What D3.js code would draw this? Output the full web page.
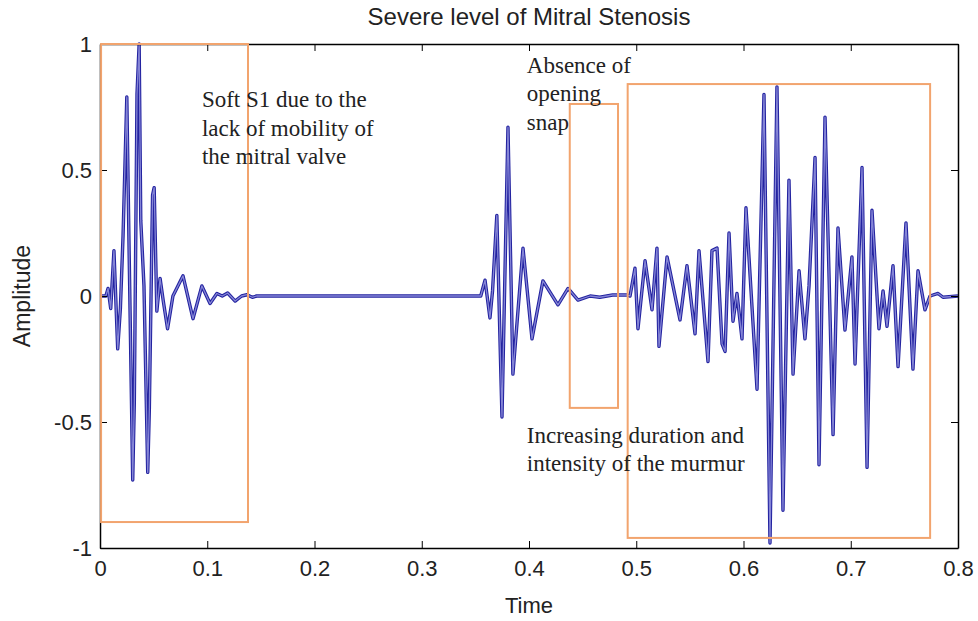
<!DOCTYPE html>
<html>
<head>
<meta charset="utf-8">
<script src="https://cdn.jsdelivr.net/npm/d3@7"></script>
<style>
  body { margin: 0; background: #fff; }
  svg { display: block; }
</style>
</head>
<body>
<script>
// signal extrema: [time, amplitude]
const s1 = [
  [0, 0], [0.0055, 0.0], [0.0075, 0.03], [0.010, -0.05], [0.013, 0.18], [0.0165, -0.21],
  [0.019, -0.05], [0.0215, 0.24], [0.025, 0.79], [0.027, 0.22], [0.0305, -0.73], [0.032, -0.42],
  [0.0345, 0.8], [0.0365, 1.0], [0.038, 0.3], [0.041, 0.04], [0.0445, -0.70], [0.046, -0.45],
  [0.049, 0.40], [0.0505, 0.43], [0.053, -0.06], [0.056, 0.07], [0.059, -0.02], [0.063, -0.13],
  [0.068, 0.0], [0.0774, 0.08], [0.0867, -0.09], [0.095, 0.04], [0.1026, -0.03], [0.109, 0.01],
  [0.114, 0.0], [0.119, 0.012], [0.126, -0.02], [0.132, 0.0], [0.137, 0.005], [0.142, -0.005],
  [0.146, 0.0]
];
const s2 = [
  [0.146, 0.0], [0.352, 0.0], [0.355, 0.0], [0.359, 0.063], [0.3636, -0.087], [0.366, 0.02],
  [0.370, 0.32], [0.3748, -0.48], [0.3804, 0.67], [0.385, -0.31], [0.3944, 0.19], [0.4028, -0.17],
  [0.413, 0.06], [0.427, -0.035], [0.4364, 0.03], [0.4457, -0.016], [0.457, 0.0], [0.466, -0.005],
  [0.478, 0.004], [0.491, 0.004]
];
const murmur = [
  [0.491, 0.004], [0.4942, 0.0], [0.4988, 0.11], [0.5016, -0.13], [0.5082, 0.14], [0.5147, -0.055],
  [0.5193, 0.19], [0.5212, -0.2], [0.5287, 0.155], [0.5408, -0.095], [0.5473, 0.12], [0.5548, -0.15],
  [0.5585, 0.18], [0.5669, -0.26], [0.5706, 0.18], [0.5753, 0.19], [0.5800, -0.19], [0.5828, -0.22],
  [0.5865, 0.25], [0.5902, -0.1], [0.5939, 0.01], [0.5986, -0.17], [0.6023, 0.35], [0.6126, -0.37],
  [0.6191, 0.80], [0.6247, -0.98], [0.6312, 0.83], [0.6368, -0.85], [0.6424, 0.46], [0.6462, -0.31],
  [0.6518, 0.10], [0.6573, -0.17], [0.6611, 0.04], [0.6667, 0.55], [0.6704, -0.67], [0.6760, 0.71],
  [0.6835, -0.55], [0.6881, 0.27], [0.6946, -0.135], [0.7011, 0.155], [0.7040, -0.27], [0.7105, 0.51],
  [0.7152, -0.68], [0.7198, 0.34], [0.7263, -0.13], [0.7301, 0.02], [0.7338, -0.12], [0.7394, 0.12],
  [0.7441, -0.28], [0.7515, 0.29], [0.7580, -0.29], [0.7627, 0.10], [0.7692, -0.055], [0.7739, 0.0],
  [0.7814, 0.01], [0.7860, -0.005], [0.8, 0.0]
];

const xTicks = [0, 0.1, 0.2, 0.3, 0.4, 0.5, 0.6, 0.7, 0.8];
const yTicks = [-1, -0.5, 0, 0.5, 1];

// highlight boxes: [t0, t1, a0, a1]
const boxes = [
  [0.001, 0.138, -0.897, 1.0],
  [0.438, 0.483, -0.444, 0.762],
  [0.492, 0.774, -0.960, 0.841]
];
// notes: anchor [t, a] and lines
const notes = [
  { at: [0.095, 0.75], lines: ["Soft S1 due to the", "lack of mobility of", "the mitral valve"] },
  { at: [0.398, 0.885], lines: ["Absence of", "opening", "snap"] },
  { at: [0.398, -0.583], lines: ["Increasing duration and", "intensity of the murmur"] }
];

const title = "Severe level of Mitral Stenosis";

const width = 978, height = 621;
const margin = { top: 44, right: 20, bottom: 73, left: 100 };

const x = d3.scaleLinear().domain([0, 0.8]).range([margin.left, width - margin.right]);
const y = d3.scaleLinear().domain([-1, 1]).range([height - margin.bottom, margin.top]);

const svg = d3.select("body").append("svg")
    .attr("width", width)
    .attr("height", height)
    .attr("font-family", "Arial, 'Liberation Sans', Helvetica, sans-serif");

const line = d3.line()
    .x(d => x(d[0]))
    .y(d => y(d[1]));

const signal = s1.concat(s2.slice(1), murmur.slice(1));

svg.append("path")
    .datum(signal)
    .attr("fill", "none")
    .attr("stroke", "#2323a0")
    .attr("stroke-width", 3.4)
    .attr("stroke-linejoin", "round")
    .attr("d", line);

svg.append("path")
    .datum(signal)
    .attr("fill", "none")
    .attr("stroke", "#8585d6")
    .attr("stroke-width", 1.3)
    .attr("stroke-linejoin", "round")
    .attr("d", line);

// axes box with inward ticks on all sides
const tk = 7;
const fmt = d => String(d);
svg.append("g")
    .attr("transform", `translate(0,${y(-1)})`)
    .call(d3.axisBottom(x).tickValues(xTicks).tickSizeInner(-tk).tickSizeOuter(0).tickPadding(12).tickFormat(fmt))
    .call(g => g.select(".domain").attr("stroke-width", 1.5))
    .call(g => g.selectAll("text").attr("font-size", 22).attr("fill", "#222"));

svg.append("g")
    .attr("transform", `translate(0,${y(1)})`)
    .call(d3.axisTop(x).tickValues(xTicks).tickSizeInner(-tk).tickSizeOuter(0).tickFormat(""))
    .call(g => g.select(".domain").attr("stroke-width", 1.5));

svg.append("g")
    .attr("transform", `translate(${x(0)},0)`)
    .call(d3.axisLeft(y).tickValues(yTicks).tickSizeInner(-tk).tickSizeOuter(0).tickPadding(8).tickFormat(fmt))
    .call(g => g.select(".domain").attr("stroke-width", 1.5))
    .call(g => g.selectAll("text").attr("font-size", 22).attr("fill", "#222"));

svg.append("g")
    .attr("transform", `translate(${x(0.8)},0)`)
    .call(d3.axisRight(y).tickValues(yTicks).tickSizeInner(-tk).tickSizeOuter(0).tickFormat(""))
    .call(g => g.select(".domain").attr("stroke-width", 1.5));

// orange boxes
svg.append("g")
    .attr("fill", "none")
    .attr("stroke", "#f2a46e")
    .attr("stroke-width", 2)
  .selectAll("rect")
  .data(boxes)
  .join("rect")
    .attr("x", d => x(d[0]))
    .attr("y", d => y(d[3]))
    .attr("width", d => x(d[1]) - x(d[0]))
    .attr("height", d => y(d[2]) - y(d[3]));

// notes
const note = svg.append("g")
    .attr("font-family", "'Times New Roman', 'Liberation Serif', serif")
    .attr("font-size", 23)
    .attr("fill", "#222")
  .selectAll("text")
  .data(notes)
  .join("text")
    .attr("x", d => x(d.at[0]))
    .attr("y", d => y(d.at[1]));

note.selectAll("tspan")
  .data(d => d.lines.map(l => ({ l, x: x(d.at[0]) })))
  .join("tspan")
    .attr("x", d => d.x)
    .attr("dy", (d, i) => i ? 28.5 : 0)
    .text(d => d.l);

// titles
svg.append("text")
    .attr("x", x(0.4))
    .attr("y", 25)
    .attr("text-anchor", "middle")
    .attr("font-size", 24)
    .attr("fill", "#222")
    .text(title);

svg.append("text")
    .attr("x", x(0.4))
    .attr("y", 613)
    .attr("text-anchor", "middle")
    .attr("font-size", 22)
    .attr("fill", "#222")
    .text("Time");

svg.append("text")
    .attr("transform", `translate(30,${y(0)}) rotate(-90)`)
    .attr("text-anchor", "middle")
    .attr("font-size", 23)
    .attr("fill", "#222")
    .text("Amplitude");
</script>
</body>
</html>
